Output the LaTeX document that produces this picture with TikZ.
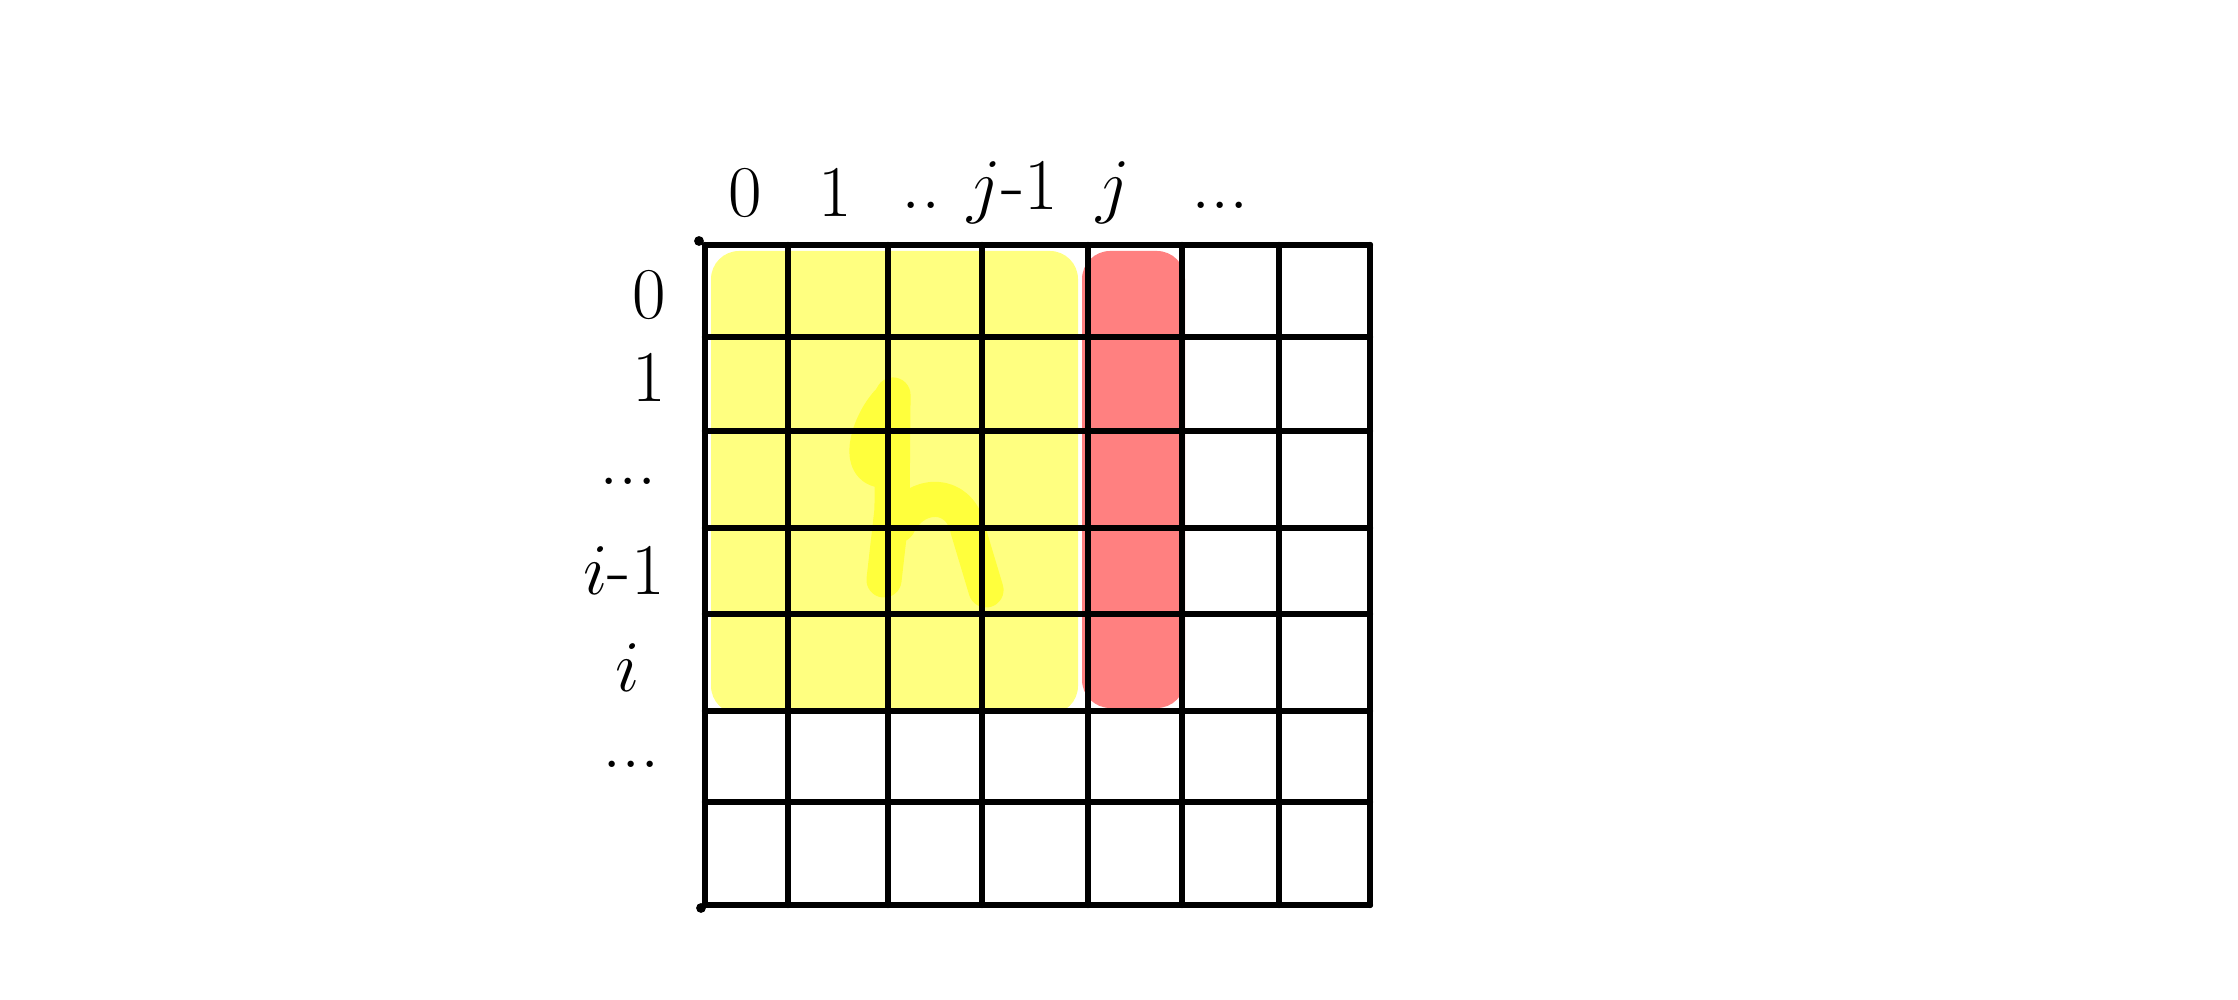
\documentclass[tikz,border=0pt]{standalone}
\usetikzlibrary{positioning}

\definecolor{hlyellow}{RGB}{255,255,128}
\definecolor{hlbright}{RGB}{255,255,60}
\definecolor{hlred}{RGB}{255,128,128}

\tikzset{
    gridline/.style={line width=1.8pt, line cap=round},
    scribble/.style={hlbright, line width=10pt, line cap=round, line join=round},
    idx/.style={font=\fontsize{22}{26}\selectfont, inner sep=0pt}
}

\begin{document}
\begin{tikzpicture}
    \useasboundingbox (0,0) rectangle (22.38,10);

    % highlighted cells
    \fill[hlyellow, rounded corners=8pt] (7.11,2.86) rectangle (10.78,7.49);
    \fill[hlred, rounded corners=8pt] (10.82,2.92) rectangle (11.85,7.49);
    \draw[scribble] (8.93,6.05) -- (8.92,4.9) -- (8.84,4.2);
    \draw[scribble] (8.9,6.0) .. controls (8.7,5.8) and (8.55,5.35) .. (8.8,5.3);
    \draw[scribble] (8.98,4.75) .. controls (9.15,5.1) and (9.6,5.1) .. (9.68,4.7)
        -- (9.86,4.1);

    % grid
    \foreach \x in {7.05,7.88,8.88,9.82,10.88,11.82,12.79,13.70}
        \draw[gridline] (\x,7.55) -- (\x,0.95);
    \foreach \y in {7.55,6.63,5.69,4.72,3.86,2.89,1.98,0.95}
        \draw[gridline] (7.05,\y) -- (13.70,\y);
    \fill (6.99,7.59) circle (1.4pt);
    \fill (7.01,0.92) circle (1.4pt);

    % column indices
    \node[idx] (c0) at (7.45,8.07) {$0$};
    \node[idx] (c1) at (8.35,8.07) {$1$};
    \node[idx] (cd) at (9.21,7.95) {..};
    \node[idx] (cjm) at (10.13,8.07) {$j$-$1$};
    \node[idx] (cj) at (11.13,8.07) {$j$};
    \node[idx] (ce) at (12.2,7.95) {...};

    % row indices
    \node[idx] (r0) at (6.49,7.05) {$0$};
    \node[idx] (r1) at (6.49,6.22) {$1$};
    \node[idx] (rd) at (6.28,5.19) {...};
    \node[idx] (rim) at (6.24,4.29) {$i$-$1$};
    \node[idx] (ri) at (6.28,3.32) {$i$};
    \node[idx] (re) at (6.31,2.36) {...};
\end{tikzpicture}
\end{document}
